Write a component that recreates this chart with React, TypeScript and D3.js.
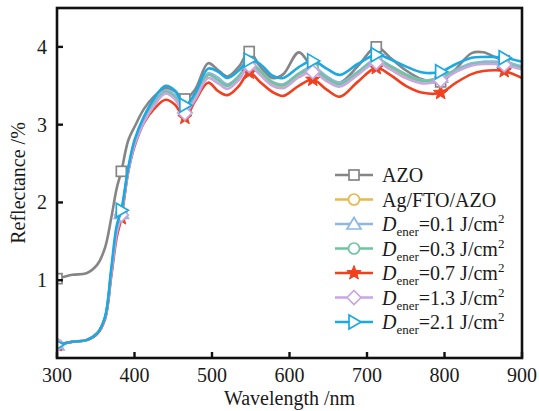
import React from "react";
import * as d3 from "d3";

const wavelengths = [300, 320, 338, 352, 362, 370, 377, 383, 392, 400, 412, 425, 440, 452, 465, 478, 495, 508, 520, 535, 548, 562, 578, 592, 612, 630, 648, 665, 688, 712, 730, 750, 772, 795, 815, 835, 850, 865, 877, 900];
const markerWavelengths = [300, 383, 465, 548, 630, 712, 795, 877];

const azo = [1.02, 1.07, 1.09, 1.2, 1.42, 1.8, 2.18, 2.4, 2.8, 2.97, 3.2, 3.36, 3.47, 3.43, 3.33, 3.45, 3.79, 3.7, 3.62, 3.75, 3.94, 3.75, 3.6, 3.65, 3.93, 3.72, 3.58, 3.54, 3.75, 4.0, 3.86, 3.7, 3.58, 3.55, 3.72, 3.92, 3.93, 3.87, 3.82, 3.73];
const agFtoAzo = [0.17, 0.21, 0.23, 0.32, 0.52, 1.1, 1.62, 1.84, 2.42, 2.76, 3.06, 3.27, 3.42, 3.36, 3.2, 3.36, 3.64, 3.58, 3.5, 3.62, 3.79, 3.68, 3.53, 3.5, 3.64, 3.72, 3.6, 3.52, 3.66, 3.82, 3.74, 3.63, 3.56, 3.6, 3.7, 3.78, 3.8, 3.8, 3.79, 3.74];
const d01 = [0.17, 0.21, 0.23, 0.32, 0.52, 1.1, 1.63, 1.86, 2.43, 2.77, 3.07, 3.28, 3.44, 3.38, 3.22, 3.37, 3.66, 3.6, 3.52, 3.63, 3.8, 3.7, 3.55, 3.52, 3.66, 3.74, 3.62, 3.54, 3.68, 3.84, 3.76, 3.65, 3.57, 3.61, 3.71, 3.79, 3.81, 3.81, 3.8, 3.75];
const d03 = [0.17, 0.21, 0.23, 0.32, 0.52, 1.1, 1.62, 1.85, 2.42, 2.76, 3.05, 3.26, 3.42, 3.36, 3.2, 3.35, 3.64, 3.57, 3.5, 3.62, 3.78, 3.69, 3.54, 3.51, 3.65, 3.72, 3.6, 3.52, 3.67, 3.83, 3.75, 3.64, 3.56, 3.6, 3.7, 3.77, 3.79, 3.79, 3.78, 3.73];
const d07 = [0.17, 0.21, 0.23, 0.31, 0.5, 1.05, 1.55, 1.8, 2.4, 2.72, 3.02, 3.2, 3.32, 3.26, 3.09, 3.3, 3.54, 3.43, 3.38, 3.5, 3.67, 3.55, 3.42, 3.37, 3.5, 3.58, 3.45, 3.36, 3.55, 3.73, 3.64, 3.5, 3.41, 3.41, 3.54, 3.65, 3.69, 3.7, 3.69, 3.6];
const d13 = [0.17, 0.21, 0.23, 0.32, 0.51, 1.08, 1.6, 1.84, 2.4, 2.74, 3.03, 3.24, 3.4, 3.33, 3.15, 3.32, 3.6, 3.53, 3.46, 3.58, 3.76, 3.64, 3.5, 3.47, 3.61, 3.68, 3.56, 3.49, 3.64, 3.8, 3.71, 3.6, 3.53, 3.57, 3.68, 3.76, 3.78, 3.78, 3.77, 3.71];
const d21 = [0.17, 0.21, 0.23, 0.32, 0.53, 1.15, 1.7, 1.9, 2.45, 2.8, 3.1, 3.33, 3.5, 3.44, 3.25, 3.4, 3.72, 3.68, 3.6, 3.7, 3.83, 3.78, 3.63, 3.6, 3.74, 3.82, 3.72, 3.64, 3.78, 3.9, 3.84, 3.75, 3.67, 3.68, 3.78, 3.86, 3.87, 3.87, 3.86, 3.81];

const xTicks = [300, 400, 500, 600, 700, 800, 900];
const yTicks = [1, 2, 3, 4];

type Series = { key: string; label: string; energy?: string; values: number[]; color: string; marker: string };

const series: Series[] = [
  { key: "azo", label: "AZO", values: azo, color: "#858585", marker: "square" },
  { key: "ag", label: "Ag/FTO/AZO", values: agFtoAzo, color: "#e6b94a", marker: "circle" },
  { key: "d01", label: "", energy: "0.1", values: d01, color: "#8db8e2", marker: "triangleUp" },
  { key: "d03", label: "", energy: "0.3", values: d03, color: "#6ec49e", marker: "circle" },
  { key: "d07", label: "", energy: "0.7", values: d07, color: "#f0401e", marker: "star" },
  { key: "d13", label: "", energy: "1.3", values: d13, color: "#c8a6e2", marker: "diamond" },
  { key: "d21", label: "", energy: "2.1", values: d21, color: "#1ca8e2", marker: "triangleRight" },
];

const FONT = "'Liberation Serif', 'Times New Roman', serif";

function Marker({ type, x, y, color }: { type: string; x: number; y: number; color: string }) {
  const sw = 1.7;
  if (type === "square") return <rect x={x - 5} y={y - 5} width={10} height={10} fill="#fff" stroke={color} strokeWidth={sw} />;
  if (type === "circle") return <circle cx={x} cy={y} r={5.5} fill="#fff" stroke={color} strokeWidth={sw} />;
  if (type === "triangleUp") return <path d={`M${x},${y - 6.5}L${x + 7},${y + 5}L${x - 7},${y + 5}Z`} fill="#fff" stroke={color} strokeWidth={sw} />;
  if (type === "triangleRight") return <path d={`M${x + 7},${y}L${x - 5},${y - 7}L${x - 5},${y + 7}Z`} fill="#fff" stroke={color} strokeWidth={sw} />;
  if (type === "diamond") return <path d={`M${x},${y - 7}L${x + 7},${y}L${x},${y + 7}L${x - 7},${y}Z`} fill="#fff" stroke={color} strokeWidth={sw} />;
  if (type === "star") {
    const pts: string[] = [];
    for (let i = 0; i < 10; i++) {
      const r = i % 2 === 0 ? 7.5 : 3.2;
      const a = -Math.PI / 2 + (i * Math.PI) / 5;
      pts.push(`${x + r * Math.cos(a)},${y + r * Math.sin(a)}`);
    }
    return <path d={`M${pts.join("L")}Z`} fill={color} stroke={color} strokeWidth={1} />;
  }
  return null;
}

export default function App() {
  const W = 539, H = 411;
  const left = 57, right = 522, top = 8, bottom = 358;
  const x = d3.scaleLinear().domain([300, 900]).range([left, right]);
  const y = d3.scaleLinear().domain([0, 4.5]).range([bottom, top]);
  const line = d3
    .line<number>()
    .x((_, i) => x(wavelengths[i]))
    .y((d) => y(d))
    .curve(d3.curveCatmullRom.alpha(0.5));

  const legX = 335, legY = 175, legDy = 24.5;

  return (
    <svg width={W} height={H} style={{ position: "absolute", left: 0, top: 0, background: "#fff" }} fontFamily={FONT}>
      <defs>
        <clipPath id="plot">
          <rect x={left} y={top} width={right - left} height={bottom - top} />
        </clipPath>
      </defs>
      <g clipPath="url(#plot)">
        {series.map((s) => (
          <g key={s.key}>
            <path d={line(s.values) || ""} fill="none" stroke={s.color} strokeWidth={2.6} strokeLinejoin="round" />
            {markerWavelengths.map((mw) => {
              const i = wavelengths.indexOf(mw);
              return <Marker key={mw} type={s.marker} x={x(mw)} y={y(s.values[i])} color={s.color} />;
            })}
          </g>
        ))}
      </g>
      <rect x={left} y={top} width={right - left} height={bottom - top} fill="none" stroke="#111" strokeWidth={2.6} />
      {xTicks.map((t) => (
        <g key={t}>
          <line x1={x(t)} x2={x(t)} y1={bottom} y2={bottom - 6} stroke="#111" strokeWidth={2.4} />
          <text x={x(t)} y={382} textAnchor="middle" fontSize={20} fill="#1a1a1a">{t}</text>
        </g>
      ))}
      {yTicks.map((t) => (
        <g key={t}>
          <line x1={left} x2={left + 6} y1={y(t)} y2={y(t)} stroke="#111" strokeWidth={2.4} />
          <text x={47} y={y(t) + 7} textAnchor="end" fontSize={20} fill="#1a1a1a">{t}</text>
        </g>
      ))}
      <text x={(left + right) / 2} y={405} textAnchor="middle" fontSize={20} fill="#1a1a1a">Wavelength /nm</text>
      <text transform={`translate(25,${(top + bottom) / 2}) rotate(-90)`} textAnchor="middle" fontSize={20} fill="#1a1a1a">Reflectance /%</text>

      {series.map((s, i) => {
        const yy = legY + i * legDy;
        return (
          <g key={s.key}>
            <line x1={legX} x2={legX + 38} y1={yy} y2={yy} stroke={s.color} strokeWidth={2.6} />
            <Marker type={s.marker} x={legX + 19} y={yy} color={s.color} />
            <text x={legX + 47} y={yy + 7} fontSize={20} fill="#1a1a1a">
              {s.energy ? (
                <>
                  <tspan fontStyle="italic">D</tspan>
                  <tspan fontSize={13} dy={5}>ener</tspan>
                  <tspan dy={-5}>{`=${s.energy} J/cm`}</tspan>
                  <tspan fontSize={13} dy={-8}>2</tspan>
                </>
              ) : (
                s.label
              )}
            </text>
          </g>
        );
      })}
    </svg>
  );
}
